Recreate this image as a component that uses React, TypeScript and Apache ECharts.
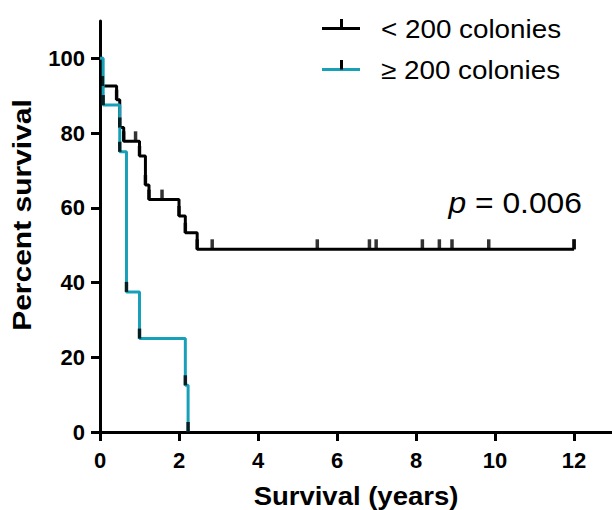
import React, { useEffect, useRef } from "react";
import * as echarts from "echarts";

// Kaplan–Meier curves (time in years, percent survival after each event)
const lowTimes = [0, 0.06, 0.42, 0.5, 0.6, 1.0, 1.15, 1.24, 2.0, 2.16, 2.46, 12.0];
const lowSurv = [100, 92.6, 88.9, 81.5, 77.8, 73.9, 66.1, 62.2, 57.8, 53.3, 48.9, 48.9];
const lowCensorTimes = [0.9, 1.57, 2.84, 5.5, 6.82, 6.99, 8.16, 8.59, 8.91, 9.84, 12.0];
const lowCensorSurv = [77.8, 62.2, 48.9, 48.9, 48.9, 48.9, 48.9, 48.9, 48.9, 48.9, 48.9];

const highTimes = [0, 0.08, 0.5, 0.67, 1.0, 2.16, 2.23];
const highSurv = [100, 87.5, 75, 37.5, 25, 12.5, 0];

const xTicks = [0, 2, 4, 6, 8, 10, 12];
const yTicks = [0, 20, 40, 60, 80, 100];

const seriesNames = ["< 200 colonies", "\u2265 200 colonies"];
const pText = "0.006";

const BLACK = "#000000";
const CYAN = "#18a0b9";
const FONT = "'Liberation Sans', Arial, Helvetica, sans-serif";

export default function App() {
  const ref = useRef<HTMLDivElement>(null);
  useEffect(() => {
    if (!ref.current) return;
    const chart = echarts.init(ref.current, null, { renderer: "svg" });
    const lowLine = lowTimes.map((t, i) => [t, lowSurv[i]]);
    const highLine = highTimes.map((t, i) => [t, highSurv[i]]);
    const lowMarks = lowLine.slice(1).concat(lowCensorTimes.map((t, i) => [t, lowCensorSurv[i]]));
    const highMarks = highLine.slice(1);
    const tickSym = {
      type: "scatter" as const,
      symbol: "rect",
      symbolSize: [3.5, 10],
      symbolOffset: [0, "-50%"],
      itemStyle: { color: BLACK },
      clip: false,
      z: 5,
      silent: true,
    };
    chart.setOption({
      animation: false,
      backgroundColor: "#ffffff",
      grid: { left: 100, top: 21, width: 512, height: 411, containLabel: false },
      xAxis: {
        type: "value",
        min: 0,
        max: 12.96,
        interval: 2,
        axisLine: { show: true, onZero: false, lineStyle: { color: BLACK, width: 3 } },
        axisTick: { show: true, length: 9, lineStyle: { color: BLACK, width: 3 }, customValues: xTicks },
        axisLabel: {
          customValues: xTicks,
          color: BLACK,
          fontFamily: FONT,
          fontWeight: "bold",
          fontSize: 22,
          margin: 17,
        },
        splitLine: { show: false },
      },
      yAxis: {
        type: "value",
        min: 0,
        max: 110,
        interval: 20,
        axisLine: { show: true, onZero: false, lineStyle: { color: BLACK, width: 3 } },
        axisTick: { show: true, length: 9, lineStyle: { color: BLACK, width: 3 }, customValues: yTicks },
        axisLabel: {
          customValues: yTicks,
          color: BLACK,
          fontFamily: FONT,
          fontWeight: "bold",
          fontSize: 22,
          margin: 15,
        },
        splitLine: { show: false },
      },
      series: [
        {
          name: seriesNames[0],
          type: "line",
          step: "end",
          data: lowLine,
          showSymbol: false,
          lineStyle: { color: BLACK, width: 3 },
          z: 2,
        },
        {
          name: seriesNames[1],
          type: "line",
          step: "end",
          data: highLine,
          showSymbol: false,
          lineStyle: { color: CYAN, width: 3 },
          z: 3,
        },
        { ...tickSym, name: "lowMarks", data: lowMarks },
        { ...tickSym, name: "highMarks", data: highMarks },
      ],
      graphic: [
        { type: "line", shape: { x1: 322, y1: 28.5, x2: 360, y2: 28.5 }, style: { stroke: BLACK, lineWidth: 3 } },
        { type: "rect", shape: { x: 340, y: 19, width: 3, height: 9.5 }, style: { fill: BLACK } },
        {
          type: "text",
          x: 381,
          y: 29,
          scaleX: 1.07,
          style: { text: seriesNames[0], fontFamily: FONT, fontSize: 26, fill: BLACK, verticalAlign: "middle", align: "left" },
        },
        { type: "line", shape: { x1: 322, y1: 69.5, x2: 360, y2: 69.5 }, style: { stroke: CYAN, lineWidth: 3 } },
        { type: "rect", shape: { x: 340, y: 60, width: 3, height: 9.5 }, style: { fill: BLACK } },
        {
          type: "text",
          x: 381,
          y: 70,
          scaleX: 1.07,
          style: { text: seriesNames[1], fontFamily: FONT, fontSize: 26, fill: BLACK, verticalAlign: "middle", align: "left" },
        },
        {
          type: "text",
          x: 582,
          y: 203,
          scaleX: 1.06,
          style: {
            text: "{i|p} = " + pText,
            align: "right",
            verticalAlign: "middle",
            fontFamily: FONT,
            fontSize: 30,
            fill: BLACK,
            rich: { i: { fontStyle: "italic", fontFamily: FONT, fontSize: 30, fill: BLACK } },
          },
        },
        {
          type: "text",
          x: 356,
          y: 496,
          scaleX: 1.1,
          style: {
            text: "Survival (years)",
            align: "center",
            verticalAlign: "middle",
            fontFamily: FONT,
            fontWeight: "bold",
            fontSize: 25,
            fill: BLACK,
          },
        },
        {
          type: "text",
          x: 22,
          y: 215,
          rotation: Math.PI / 2,
          scaleX: 1.2,
          style: {
            text: "Percent survival",
            align: "center",
            verticalAlign: "middle",
            fontFamily: FONT,
            fontWeight: "bold",
            fontSize: 25,
            fill: BLACK,
          },
        },
      ],
    });
    return () => chart.dispose();
  }, []);
  return (
    <div
      ref={ref}
      style={{ position: "absolute", left: 0, top: 0, width: 612, height: 510, background: "#fff" }}
    />
  );
}
